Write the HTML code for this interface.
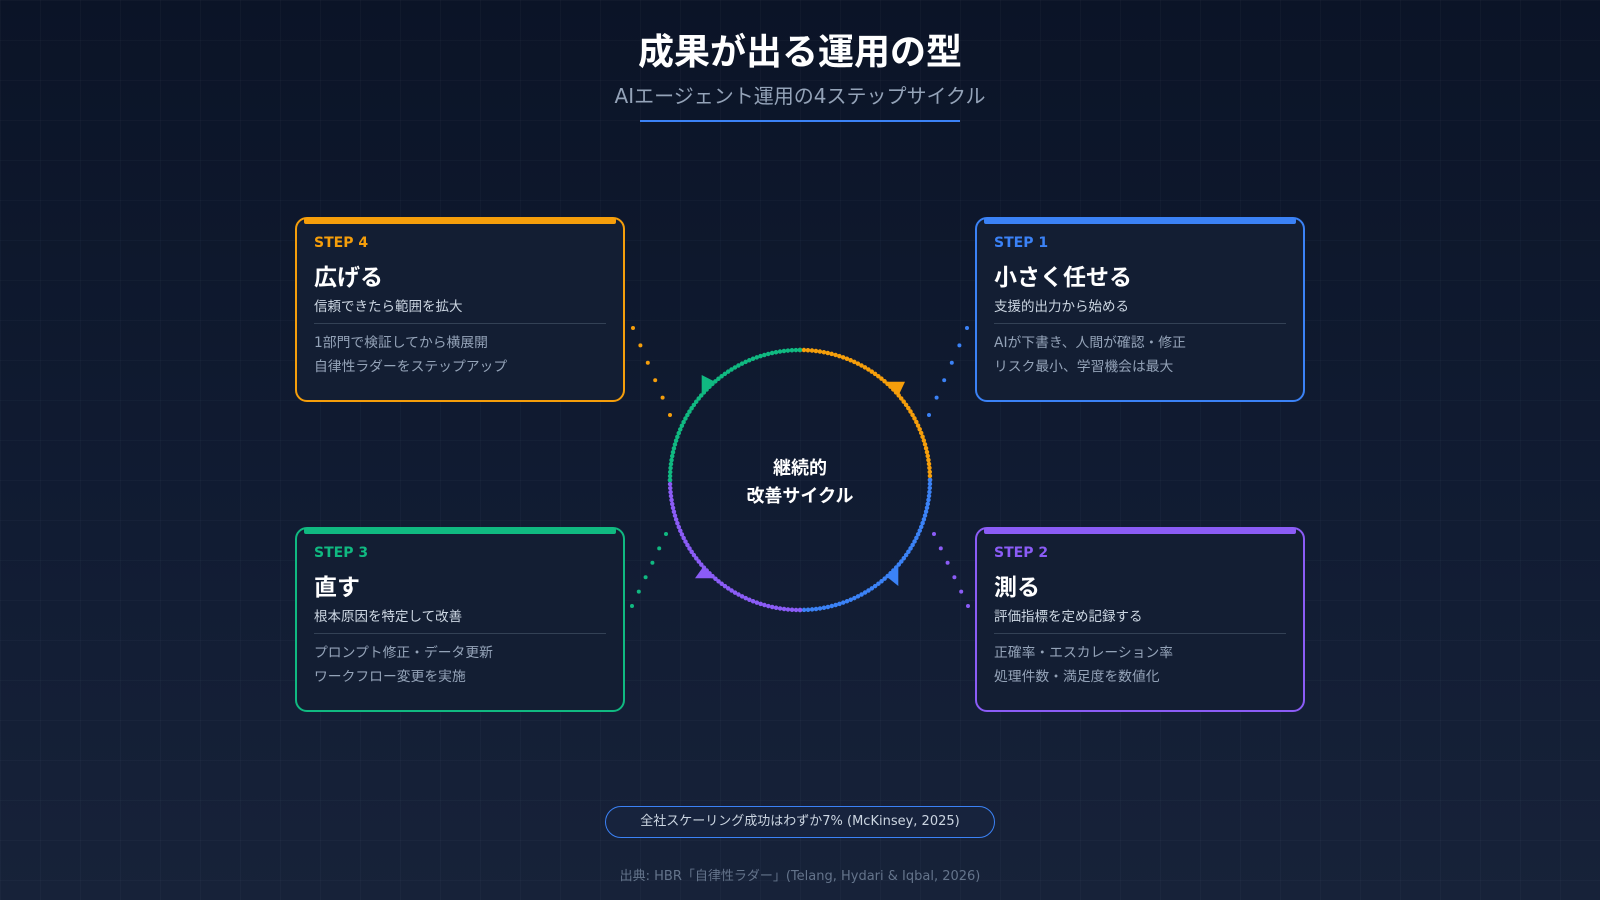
<!DOCTYPE html>
<html><head><meta charset="utf-8"><style>
*{margin:0;padding:0;box-sizing:border-box}
body{width:1600px;height:900px;overflow:hidden;font-family:"DejaVu Sans","Noto Sans CJK JP",sans-serif;
background:linear-gradient(180deg,#0b1427 0%,#111c33 60%,#172239 100%);position:relative;color:#fff}
.grid{position:absolute;inset:0;background-image:linear-gradient(rgba(148,163,184,0.04) 1px,transparent 1px),linear-gradient(90deg,rgba(148,163,184,0.04) 1px,transparent 1px);background-size:40px 40px}
.t{position:absolute;left:0;width:1600px;text-align:center}
.card{position:absolute;width:330px;height:185px;border:2px solid;border-radius:12px;background:#131e33}
.bar{position:absolute;left:7px;right:7px;top:-1px;height:6px;border-radius:2px}
.lab{position:absolute;left:17px;top:16px;font-size:14px;font-weight:bold}
.h{position:absolute;left:17px;top:39px;font-size:23px;font-weight:bold;color:#fff}
.s{position:absolute;left:17px;top:76px;font-size:13.5px;color:#cbd5e1}
.dv{position:absolute;left:17px;right:17px;top:104px;height:1px;background:#334155}
.l{position:absolute;left:17px;font-size:13.8px;color:#94a3b8}
</style></head><body>
<div class="grid"></div>
<div class="t" style="top:23px;font-size:36px;font-weight:bold;">成果が出る運用の型</div>
<div class="t" style="top:80px;font-size:20px;color:#94a3b8;">AIエージェント運用の4ステップサイクル</div>
<div style="position:absolute;left:640px;top:120px;width:320px;height:2px;background:#3b82f6"></div>

<svg width="1600" height="900" style="position:absolute;left:0;top:0">
<g fill="none" stroke-width="4.5" stroke-linecap="round" stroke-dasharray="0 4">
<path d="M800 350 A130 130 0 0 1 930 480" stroke="#f59e0b"/>
<path d="M930 480 A130 130 0 0 1 800 610" stroke="#3b82f6"/>
<path d="M800 610 A130 130 0 0 1 670 480" stroke="#8b5cf6"/>
<path d="M670 480 A130 130 0 0 1 800 350" stroke="#10b981"/>
</g>
<polygon points="886.7,381.7 905,381.7 898.3,396" fill="#f59e0b"/>
<polygon points="898.3,566.7 886.7,576.7 898.3,586" fill="#3b82f6"/>
<polygon points="695,578.3 715,578.3 703.3,566.7" fill="#8b5cf6"/>
<polygon points="701.7,375 701.7,393.3 715,381.7" fill="#10b981"/>
<g fill="#f59e0b"><circle cx="633" cy="328" r="2"/><circle cx="640.4" cy="345.4" r="2"/><circle cx="647.8" cy="362.8" r="2"/><circle cx="655.2" cy="380.2" r="2"/><circle cx="662.6" cy="397.6" r="2"/><circle cx="670" cy="415" r="2"/></g>
<g fill="#3b82f6"><circle cx="967" cy="328" r="2"/><circle cx="959.4" cy="345.4" r="2"/><circle cx="951.8" cy="362.8" r="2"/><circle cx="944.2" cy="380.2" r="2"/><circle cx="936.6" cy="397.6" r="2"/><circle cx="929" cy="415" r="2"/></g>
<g fill="#10b981"><circle cx="666" cy="534" r="2"/><circle cx="659.2" cy="548.4" r="2"/><circle cx="652.4" cy="562.8" r="2"/><circle cx="645.6" cy="577.2" r="2"/><circle cx="638.8" cy="591.6" r="2"/><circle cx="632" cy="606" r="2"/></g>
<g fill="#8b5cf6"><circle cx="934" cy="534" r="2"/><circle cx="940.8" cy="548.4" r="2"/><circle cx="947.6" cy="562.8" r="2"/><circle cx="954.4" cy="577.2" r="2"/><circle cx="961.2" cy="591.6" r="2"/><circle cx="968" cy="606" r="2"/></g>
</svg>
<div class="t" style="top:455px;font-size:18px;font-weight:bold;line-height:28px">継続的<br>改善サイクル</div>

<div class="card" style="left:295px;top:217px;border-color:#f59e0b"><div class="bar" style="background:#f59e0b"></div>
<div class="lab" style="color:#f59e0b">STEP 4</div><div class="h">広げる</div><div class="s">信頼できたら範囲を拡大</div><div class="dv"></div>
<div class="l" style="top:112px">1部門で検証してから横展開</div><div class="l" style="top:136px">自律性ラダーをステップアップ</div></div>

<div class="card" style="left:975px;top:217px;border-color:#3b82f6"><div class="bar" style="background:#3b82f6"></div>
<div class="lab" style="color:#3b82f6">STEP 1</div><div class="h">小さく任せる</div><div class="s">支援的出力から始める</div><div class="dv"></div>
<div class="l" style="top:112px">AIが下書き、人間が確認・修正</div><div class="l" style="top:136px">リスク最小、学習機会は最大</div></div>

<div class="card" style="left:295px;top:527px;border-color:#10b981"><div class="bar" style="background:#10b981"></div>
<div class="lab" style="color:#10b981">STEP 3</div><div class="h">直す</div><div class="s">根本原因を特定して改善</div><div class="dv"></div>
<div class="l" style="top:112px">プロンプト修正・データ更新</div><div class="l" style="top:136px">ワークフロー変更を実施</div></div>

<div class="card" style="left:975px;top:527px;border-color:#8b5cf6"><div class="bar" style="background:#8b5cf6"></div>
<div class="lab" style="color:#8b5cf6">STEP 2</div><div class="h">測る</div><div class="s">評価指標を定め記録する</div><div class="dv"></div>
<div class="l" style="top:112px">正確率・エスカレーション率</div><div class="l" style="top:136px">処理件数・満足度を数値化</div></div>

<div style="position:absolute;left:605px;top:806px;width:390px;height:32px;border:1.5px solid #3b82f6;border-radius:16px;background:#17233d;text-align:center;line-height:29px;font-size:13px;color:#cbd5e1">全社スケーリング成功はわずか7% (McKinsey, 2025)</div>
<div class="t" style="top:865px;font-size:13px;color:#64748b">出典: HBR「自律性ラダー」(Telang, Hydari &amp; Iqbal, 2026)</div>
</body></html>
